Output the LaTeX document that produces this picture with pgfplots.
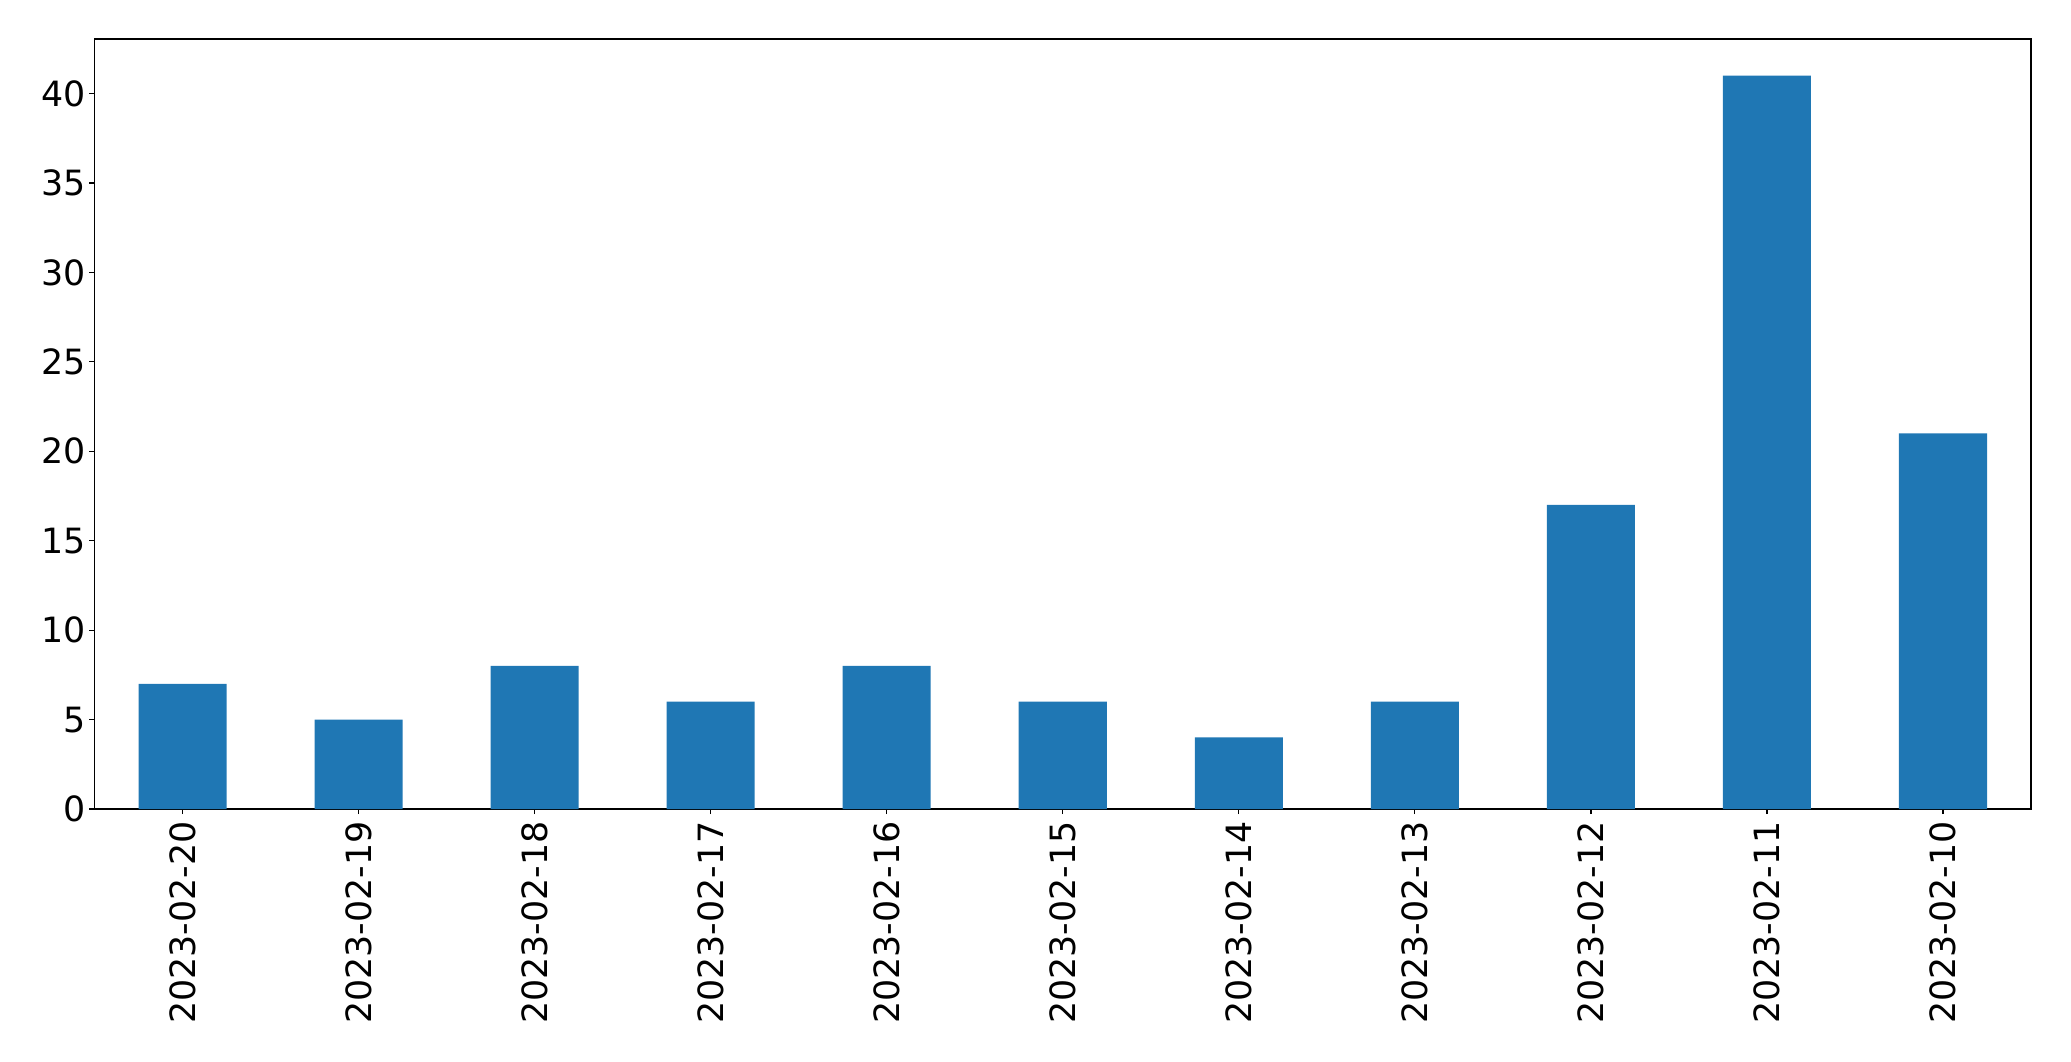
\documentclass[border=0pt]{standalone}
\usepackage{pgfplots}
\pgfplotsset{compat=1.18}
\usepackage{fontspec}
\setmainfont{DejaVu Sans}
\definecolor{barblue}{HTML}{1F77B4}

\begin{document}
\begin{tikzpicture}
  \begin{axis}[
    scale only axis,
    width=968.25pt, height=385pt,
    xmin=-0.5, xmax=10.5,
    ymin=0, ymax=43.05,
    xtick=data,
    xticklabels={2023-02-20,2023-02-19,2023-02-18,2023-02-17,2023-02-16,2023-02-15,2023-02-14,2023-02-13,2023-02-12,2023-02-11,2023-02-10},
    ytick={0,5,...,40},
    xtick pos=left, ytick pos=left,
    tick align=outside,
    major tick length=2.5pt,
    tick style={black, line width=0.6pt},
    axis line style={line width=0.6pt},
    /pgf/number format/assume math mode=true,
    x tick label style={rotate=90, anchor=east, inner sep=3.5pt, font=\fontsize{17.4}{21}\selectfont},
    y tick label style={inner sep=1.8pt, font=\fontsize{17.4}{21}\selectfont},
    ybar, bar width=0.5, bar shift=0pt,
  ]
    % valeurs par jour
    \addplot[fill=barblue, draw=none] coordinates {
      (0,7) (1,5) (2,8) (3,6) (4,8) (5,6) (6,4) (7,6) (8,17) (9,41) (10,21)
    };
  \end{axis}
  \path ([xshift=-47.25pt,yshift=-126pt]current axis.south west)
    rectangle ([xshift=20pt,yshift=19.5pt]current axis.north east);
\end{tikzpicture}
\end{document}
